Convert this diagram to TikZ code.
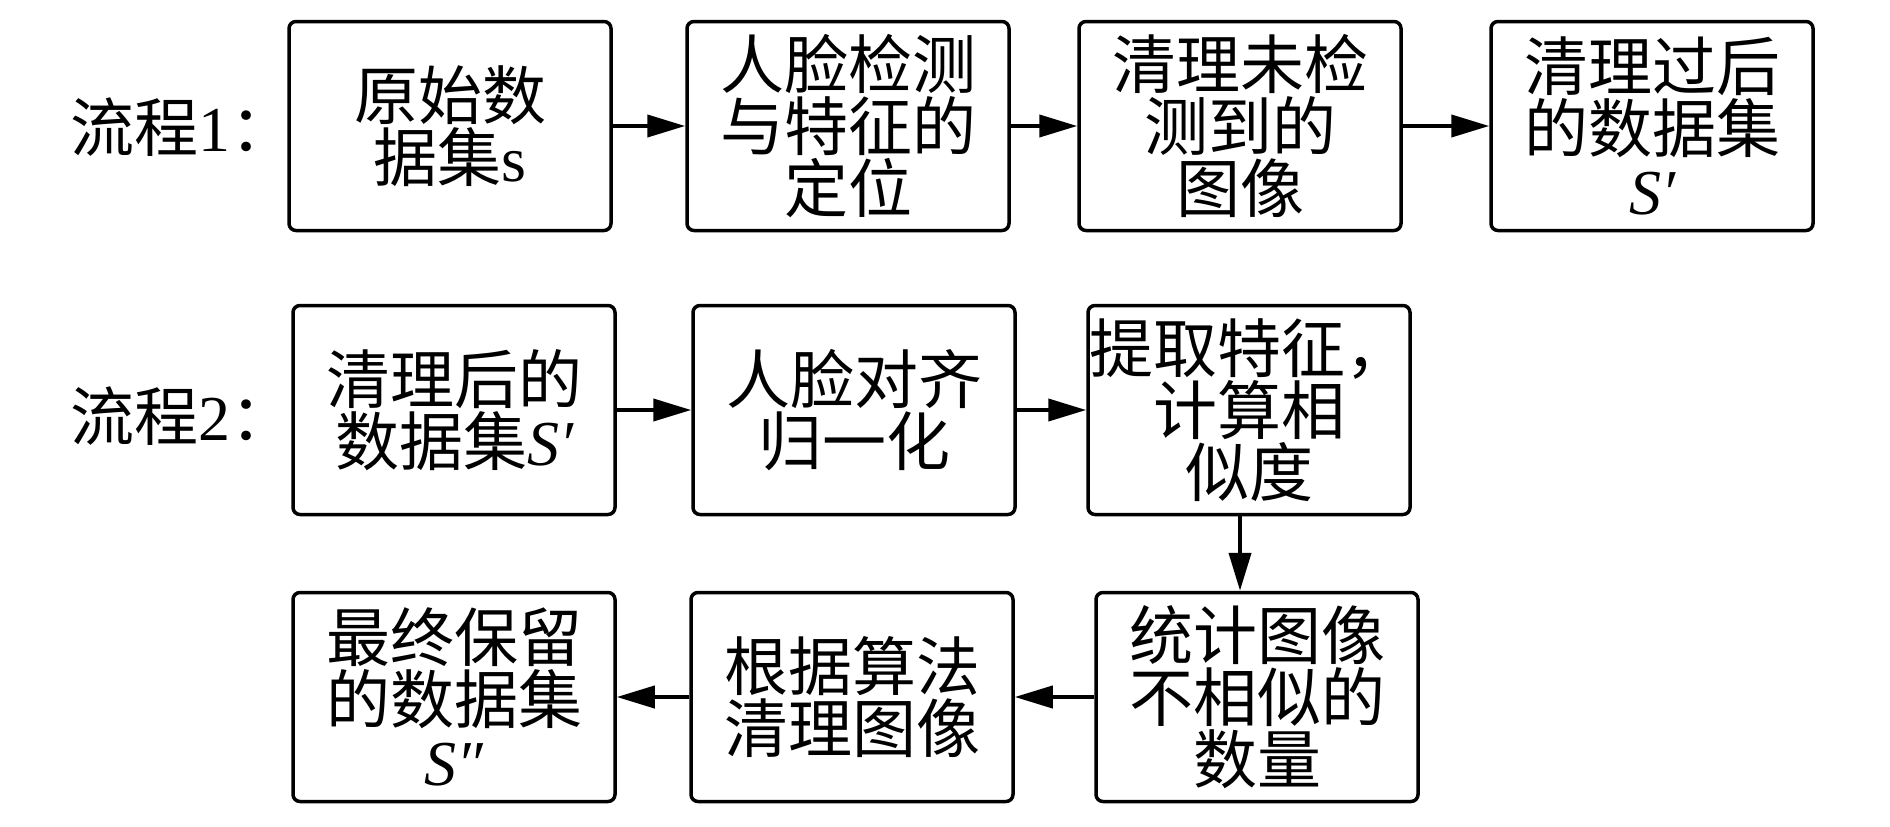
\documentclass[tikz,border=0pt]{standalone}
\usepackage{fontspec}
\setmainfont{Liberation Serif}
\newfontfamily\cjk{Noto Sans CJK SC}
\usetikzlibrary{arrows.meta}
\begin{document}
\begin{tikzpicture}[x=1pt,y=-1pt]
\tikzset{
  box/.style={draw, line width=3.5pt, rounded corners=7pt, minimum width=322pt, minimum height=209pt,
    align=center, font=\cjk\fontsize{64}{62}\selectfont, inner sep=0pt},
  lbl/.style={font=\cjk\fontsize{64}{62}\selectfont, inner sep=0pt},
  arr/.style={-{Triangle[length=38pt,width=22pt]}, line width=4pt}
}
\useasboundingbox (0,0) rectangle (1890,827);
\node[lbl] (l1) at (182,127) {流程{\rmfamily 1}：};
\node[lbl] (l2) at (182,416) {流程{\rmfamily 2}：};
\node[box] (b1) at (450,126) {原始数\\据集{\rmfamily s}};
\node[box] (b2) at (848,126) {人脸检测\\与特征的\\定位};
\node[box] (b3) at (1240,126) {清理未检\\测到的\\图像};
\node[box] (b4) at (1652,126) {清理过后\\的数据集\\{\rmfamily\itshape S′}};
\node[box] (b5) at (454,410) {清理后的\\数据集{\rmfamily\itshape S′}};
\node[box] (b6) at (854,410) {人脸对齐\\归一化};
\node[box] (b7) at (1249,410) {提取特征，\\计算相\\似度};
\node[box] (b8) at (454,697) {最终保留\\的数据集\\{\rmfamily\itshape S″}};
\node[box] (b9) at (852,697) {根据算法\\清理图像};
\node[box] (b10) at (1257,697) {统计图像\\不相似的\\数量};
\draw[arr] (b1) -- (b2);
\draw[arr] (b2) -- (b3);
\draw[arr] (b3) -- (b4);
\draw[arr] (b5) -- (b6);
\draw[arr] (b6) -- (b7);
\draw[arr] ([xshift=-9pt]b7.south) -- ([xshift=-9pt]b7.south |- b10.north);
\draw[arr] (b10) -- (b9);
\draw[arr] (b9) -- (b8);
\end{tikzpicture}
\end{document}
